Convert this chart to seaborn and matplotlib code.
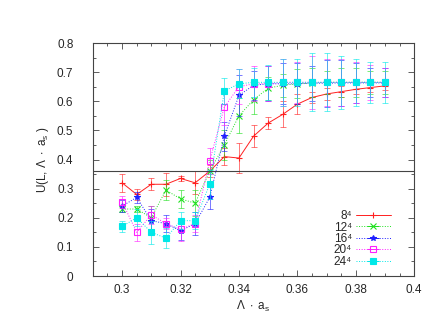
import numpy as np
import pandas as pd
import matplotlib
matplotlib.use("Agg")
import matplotlib.pyplot as plt
from matplotlib.ticker import MultipleLocator
import seaborn as sns

# valeurs
x = [0.300, 0.305, 0.310, 0.315, 0.320, 0.325, 0.330, 0.335, 0.340, 0.345,
     0.350, 0.355, 0.360, 0.365, 0.370, 0.375, 0.380, 0.385, 0.390]

u8 = [0.32, 0.28, 0.315, 0.315, 0.335, 0.32, 0.36, 0.41, 0.405, 0.48,
      0.525, 0.555, 0.59, 0.613, 0.625, 0.633, 0.641, 0.647, 0.653]
e8 = [0.03, 0.02, 0.02, 0.04, 0.01, 0.04, 0.02, 0.03, 0.053, 0.038,
      0.02, 0.045, 0.035, 0.02, 0.02, 0.02, 0.015, 0.015, 0.015]

u12 = [0.23, 0.23, 0.2, 0.295, 0.265, 0.25, 0.36, 0.45, 0.55, 0.605,
       0.645, 0.655, 0.66, 0.663, 0.665, 0.665, 0.665, 0.665, 0.665]
e12 = [0.01, 0.01, 0.04, 0.035, 0.03, 0.045, 0.04, 0.05, 0.06, 0.05,
       0.04, 0.04, 0.05, 0.05, 0.04, 0.05, 0.05, 0.04, 0.04]

u16 = [0.24, 0.27, 0.19, 0.18, 0.155, 0.18, 0.27, 0.48, 0.62, 0.655,
       0.66, 0.66, 0.66, 0.662, 0.662, 0.663, 0.663, 0.663, 0.663]
e16 = [0.02, 0.02, 0.04, 0.03, 0.03, 0.04, 0.04, 0.05, 0.07, 0.05,
       0.06, 0.07, 0.07, 0.06, 0.08, 0.08, 0.07, 0.05, 0.05]

u20 = [0.255, 0.15, 0.21, 0.18, 0.16, 0.18, 0.395, 0.58, 0.65, 0.66,
       0.66, 0.665, 0.665, 0.665, 0.665, 0.665, 0.665, 0.665, 0.665]
e20 = [0.02, 0.03, 0.03, 0.02, 0.04, 0.03, 0.045, 0.06, 0.06, 0.06,
       0.06, 0.08, 0.07, 0.09, 0.08, 0.08, 0.07, 0.06, 0.05]

u24 = [0.17, 0.2, 0.15, 0.13, 0.19, 0.19, 0.315, 0.635, 0.66, 0.665,
       0.665, 0.665, 0.665, 0.665, 0.665, 0.665, 0.665, 0.665, 0.665]
e24 = [0.02, 0.03, 0.04, 0.035, 0.03, 0.03, 0.05, 0.045, 0.05, 0.05,
       0.06, 0.08, 0.08, 0.1, 0.1, 0.09, 0.08, 0.07, 0.07]

labels = ["8⁴", "12⁴", "16⁴", "20⁴", "24⁴"]
seuil = 0.36

sns.set_style("ticks")
plt.rcParams['font.family'] = ['Liberation Sans', 'DejaVu Sans']
plt.rcParams['mathtext.fontset'] = 'custom'
plt.rcParams['mathtext.rm'] = 'Liberation Sans'
plt.rcParams['mathtext.it'] = 'Liberation Sans'
plt.rcParams['mathtext.default'] = 'regular'

series = [u8, u12, u16, u20, u24]
errors = [e8, e12, e16, e20, e24]
colors = ["#ff2020", "#20e020", "#2020ff", "#ff20ff", "#00e8e8"]
markers = ["+", "x", "*", "s", "s"]
fills = ["full", "full", "full", "none", "full"]
styles = ["-", ":", ":", ":", ":"]

rows = []
for lab, vals, errs in zip(labels, series, errors):
    for xi, v, e in zip(x, vals, errs):
        rows.append({"x": xi, "U": v, "err": e, "L": lab})
df = pd.DataFrame(rows)

fig = plt.figure(figsize=(4.36, 3.14), dpi=100)
ax = fig.add_axes([0.213, 0.121, 0.737, 0.742])

handles = []
for lab, c, m, f, ls in zip(labels, colors, markers, fills, styles):
    sub = df[df["L"] == lab]
    sns.lineplot(data=sub, x="x", y="U", color=c, linewidth=0.7, linestyle=ls,
                 marker=m, markersize=4, fillstyle=f, markeredgewidth=0.8,
                 markeredgecolor=c, ax=ax, legend=False, errorbar=None)
    ax.errorbar(sub["x"], sub["U"], yerr=sub["err"], fmt="none", ecolor=c,
                elinewidth=0.6, capsize=2.5, capthick=0.6, alpha=0.7)
    # poignée de légende : ligne + marqueur + barre d'erreur
    lh = ax.errorbar([], [], xerr=[], color=c, linestyle=ls, linewidth=0.7,
                     marker=m, markersize=4, fillstyle=f, markeredgewidth=0.8,
                     capsize=2.5, label=lab)
    handles.append(lh)

ax.axhline(seuil, color="#444444", linewidth=0.8)

ax.set_xlim(0.29, 0.4)
ax.set_ylim(0, 0.8)
ax.xaxis.set_minor_locator(MultipleLocator(0.005))
ax.yaxis.set_minor_locator(MultipleLocator(0.05))
ax.set_xticks([0.3, 0.32, 0.34, 0.36, 0.38, 0.4])
ax.set_xticklabels(["0.3", "0.32", "0.34", "0.36", "0.38", "0.4"])
ax.set_yticks([0, 0.1, 0.2, 0.3, 0.4, 0.5, 0.6, 0.7, 0.8])
ax.set_yticklabels(["0", "0.1", "0.2", "0.3", "0.4", "0.5", "0.6", "0.7", "0.8"])
ax.tick_params(which="both", direction="in", top=True, right=True,
               labelsize=8.5, width=0.6, color="#444444")
ax.tick_params(which="major", length=4)
ax.tick_params(axis="x", which="major", pad=6)
ax.tick_params(axis="y", which="major", pad=14)
ax.tick_params(which="minor", length=2)
for s in ax.spines.values():
    s.set_linewidth(0.8)
    s.set_color("#444444")

ax.set_xlabel(r"$\Lambda\ \cdot\ a_s$", fontsize=8.5, labelpad=2)
ax.set_ylabel(r"U(L, $\Lambda\ \cdot\ a_s$ )", fontsize=8.5, labelpad=4)

leg = ax.legend(handles=handles, labels=labels, loc="lower right",
                bbox_to_anchor=(0.935, 0.025), frameon=False, markerfirst=False,
                fontsize=8.5, handlelength=3.0, labelspacing=-0.05,
                handletextpad=0.3, borderaxespad=0, borderpad=0.2)
for t in leg.get_texts():
    t.set_ha("right")

fig.savefig("out.png", dpi=100)
